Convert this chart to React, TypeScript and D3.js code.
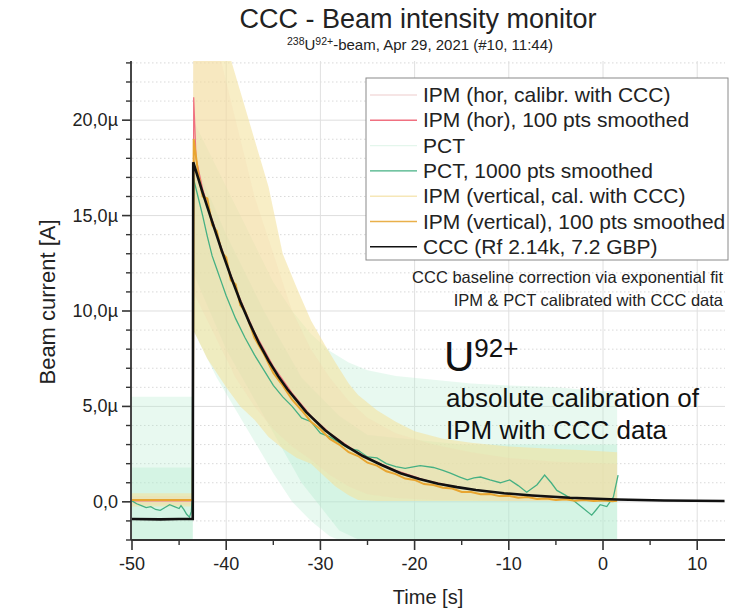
import React from 'react';
import * as d3 from 'd3';

// ---------- data ----------
const X_TICKS = [-50, -40, -30, -20, -10, 0, 10];
const X_MINOR = [-45, -35, -25, -15, -5, 5];
const Y_TICKS = [0, 5, 10, 15, 20];
const Y_TICK_LABELS = ['0,0', '5,0µ', '10,0µ', '15,0µ', '20,0µ'];
const Y_MINOR = [-2, -1, 1, 2, 3, 4, 6, 7, 8, 9, 11, 12, 13, 14, 16, 17, 18, 19, 21, 22, 23];

// CCC signal [t (s), I (µA)]
const CCC: [number, number][] = [
  [-50, -0.9], [-47, -0.92], [-45, -0.9], [-43.55, -0.9], [-43.5, 17.8], [-42.5, 16.2], [-41.5, 14.7],
  [-40.5, 13.2], [-39.5, 11.8], [-38.5, 10.5], [-37.5, 9.35], [-36.5, 8.3], [-35.5, 7.4],
  [-34.5, 6.6], [-33.5, 5.9], [-31.5, 4.7], [-29.5, 3.75], [-27.5, 3.0], [-25.5, 2.4],
  [-23.5, 1.93], [-21.5, 1.5], [-19.5, 1.2], [-17.5, 0.95], [-15.5, 0.77], [-13.5, 0.62],
  [-10.5, 0.45], [-7.5, 0.33], [-3.5, 0.21], [1.5, 0.12], [6.5, 0.07], [12.9, 0.04],
];

// IPM (vertical), 100 pts smoothed
const IPM_V_SMOOTH: [number, number][] = [
  [-50, 0.1], [-43.55, 0.1], [-43.45, 19.0], [-43, 17.3], [-42.5, 16.0], [-42, 15.9], [-41.5, 14.5],
  [-41, 14.2], [-40.5, 13.1], [-40, 12.8], [-39.5, 11.6], [-39, 11.4], [-38.5, 10.3], [-38, 10.0],
  [-37, 8.6], [-36, 7.75], [-35, 6.75], [-34, 6.1], [-33, 5.35], [-32, 4.8], [-31, 4.2], [-30, 3.8],
  [-29, 3.3], [-28, 3.0], [-27, 2.6], [-26, 2.4], [-25, 2.05], [-24, 1.9], [-23, 1.6],
  [-22, 1.45], [-21, 1.22], [-20, 1.15], [-19, 0.93], [-18, 0.88], [-17, 0.74], [-16, 0.7],
  [-15, 0.52], [-14, 0.52], [-13, 0.4], [-12, 0.41], [-11, 0.3], [-10, 0.32], [-9, 0.22],
  [-8, 0.25], [-7, 0.15], [-6, 0.18], [-5, 0.1], [-4, 0.13], [-3, 0.06], [-2, 0.09],
  [-1, 0.04], [0, 0.07], [1, 0.03], [1.5, 0.05],
];

// IPM (hor), 100 pts smoothed
const IPM_H_SMOOTH: [number, number][] = [
  [-50, 0.05], [-43.55, 0.05], [-43.45, 21.2], [-43.2, 18.0], [-42.5, 16.4], [-41.5, 14.8],
  [-40.5, 13.3], [-39.5, 11.9], [-38.5, 10.6], [-37, 8.9], [-35, 7.1], [-33, 5.7], [-31, 4.5],
  [-29, 3.6], [-27, 2.9], [-25, 2.3], [-22, 1.65], [-19, 1.15], [-16, 0.83], [-13, 0.58],
  [-10, 0.42], [-7, 0.3], [-4, 0.2], [-1, 0.15], [1.5, 0.12],
];

// PCT, 1000 pts smoothed
const PCT_SMOOTH: [number, number][] = [
  [-50, 0.05], [-49.5, -0.1], [-49, -0.2], [-48.5, -0.3], [-48, -0.25], [-47.5, -0.4],
  [-47, -0.45], [-46.5, -0.3], [-46, -0.15], [-45.5, -0.25], [-45, -0.35], [-44.8, -0.2],
  [-44.5, -0.4], [-44.2, -0.65], [-43.9, -0.8], [-43.7, -0.5], [-43.6, 0.2], [-43.5, 17.0],
  [-43, 16.0], [-42.5, 15.0], [-42, 13.9], [-41.5, 12.9], [-41, 12.2], [-40.5, 11.5],
  [-40, 10.8], [-39.5, 10.2], [-39, 9.6], [-38, 8.6], [-37, 7.7], [-36, 6.9], [-35, 6.1],
  [-34, 5.5], [-33, 5.0], [-32, 4.4], [-31, 4.2], [-30, 3.6], [-29, 3.4], [-28, 3.1],
  [-27, 2.8], [-26, 2.7], [-25, 2.35], [-24, 2.3], [-23, 2.0], [-22, 1.85], [-21, 1.75],
  [-20, 1.85], [-19.4, 1.9], [-18, 1.8], [-17, 1.65], [-16.2, 1.5], [-15.2, 1.3],
  [-14.4, 1.15], [-13.7, 1.25], [-13, 1.3], [-12, 1.15], [-10.9, 1.0], [-9.9, 1.15],
  [-9, 0.85], [-8.1, 0.5], [-7, 0.9], [-6.2, 1.4], [-5.5, 1.0], [-4.9, 0.6], [-4, 0.35],
  [-3.2, 0.1], [-2.2, -0.3], [-1.2, -0.7], [-0.7, -0.4], [-0.3, -0.15], [0.4, -0.25],
  [1.1, 0.25], [1.6, 1.4],
];

// raw noisy signals, as envelopes [t, low, high]
const IPM_V_RAW: [number, number, number][] = [
  [-50, -0.25, 0.45], [-43.55, -0.25, 0.45], [-43.5, 9, 24], [-42, 7.5, 24], [-40, 6, 24],
  [-38.5, 5, 21.5], [-37, 4.3, 19], [-35.5, 3.4, 16.5], [-34, 2.8, 13], [-32.5, 2.3, 11.2],
  [-31, 2.0, 9.5], [-29.5, 1.3, 8.2], [-28.4, 0.8, 7.3], [-27, 0.35, 6.2], [-26, 0.1, 5.6],
  [-24, 0.05, 4.8], [-22, 0.05, 4.2], [-20, 0.05, 3.7], [-17, 0.05, 3.3], [-14, 0.05, 3.1],
  [-10, 0.05, 2.9], [-6, 0.05, 2.8], [-2, 0.05, 2.7], [1.5, 0.05, 2.6],
];
const IPM_H_RAW: [number, number, number][] = [
  [-50, -0.15, 0.3], [-43.55, -0.15, 0.3], [-43.5, 11, 24], [-41, 8.5, 24], [-39, 6.5, 20],
  [-37, 5, 16], [-35, 3.8, 13], [-33, 2.9, 10], [-31, 2.2, 8], [-29, 1.4, 6.5], [-27, 0.8, 5.3],
  [-25, 0.4, 4.4], [-22, 0.2, 3.6], [-18, 0.1, 3.0], [-14, 0.1, 2.6], [-10, 0.05, 2.3],
  [-5, 0.05, 2.1], [1.5, 0.05, 2.0],
];
const PCT_RAW: [number, number, number][] = [
  [-50, -2.2, 5.5], [-43.55, -2.2, 5.5], [-43.5, 9, 20], [-41, 6.5, 17.5], [-38, 4, 14.5],
  [-35, 1.5, 11.5], [-33, 0, 10], [-31, -1.0, 8.8], [-29, -1.8, 7.9], [-27, -2.2, 7.3],
  [-25, -2.2, 6.9], [-22, -2.2, 6.6], [-18, -2.2, 6.4], [-14, -2.2, 6.2], [-10, -2.2, 6.1],
  [-5, -2.2, 6], [0, -2.2, 5.8], [1.5, -2.2, 5.8],
];
const PCT_CORE: [number, number, number][] = [
  [-50, -2.2, 1.8], [-43.55, -2.2, 1.8], [-43.5, 12, 18], [-40, 8, 14], [-36, 4.5, 10],
  [-32, 1, 6.5], [-28, -1.5, 4.5], [-25, -2.2, 3.5], [-15, -2.2, 3], [1.5, -2.2, 3],
];

const LEGEND_LABELS = [
  'IPM (hor, calibr. with CCC)',
  'IPM (hor), 100 pts smoothed',
  'PCT',
  'PCT, 1000 pts smoothed',
  'IPM (vertical, cal. with CCC)',
  'IPM (vertical), 100 pts smoothed',
  'CCC (Rf 2.14k, 7.2 GBP)',
];
const LEGEND_COLORS = ['#f3dcdc', '#f07080', '#e4f6ec', '#45b083', '#f6e7b8', '#e9b04a', '#111111'];

const FONT = "'Liberation Sans', Arial, sans-serif";

export default function App() {
  const W = 730, H = 615;
  const L = 132, R = 725, T = 61, B = 540;
  const x = d3.scaleLinear().domain([-50, 12.95]).range([L, R]);
  const y = d3.scaleLinear().domain([-2, 23.1]).range([B, T]);

  const line = d3.line<[number, number]>().x(d => x(d[0])).y(d => y(d[1]));
  const area = d3.area<[number, number, number]>().x(d => x(d[0])).y0(d => y(d[1])).y1(d => y(d[2]));

  const legX = 366, legY = 78, legW = 362, legH = 182;
  const legRow = (i: number) => 95 + i * 25.3;

  return (
    <svg width={W} height={H} style={{ position: 'absolute', left: 0, top: 0, background: '#fff' }} fontFamily={FONT}>
      <defs>
        <clipPath id="plotclip">
          <rect x={L} y={T} width={R - L} height={B - T} />
        </clipPath>
      </defs>
      <rect x={0} y={0} width={W} height={H} fill="#fff" />

      {/* grid */}
      {Y_MINOR.map(v => (
        <line key={'ym' + v} x1={L} x2={R} y1={y(v)} y2={y(v)} stroke="#cfcfcf" strokeWidth={0.8} strokeDasharray="1.5,2.5" />
      ))}
      {Y_TICKS.map(v => (
        <line key={'yg' + v} x1={L} x2={R} y1={y(v)} y2={y(v)} stroke="#dedede" strokeWidth={1} />
      ))}
      {X_TICKS.filter(v => v !== -50).map(v => (
        <line key={'xg' + v} x1={x(v)} x2={x(v)} y1={T} y2={B} stroke="#e0e0e0" strokeWidth={1} />
      ))}

      {/* raw bands and smoothed lines */}
      <g clipPath="url(#plotclip)">
        <path d={area(PCT_RAW) || ''} fill="rgb(178,234,205)" fillOpacity={0.3} />
        <path d={area(PCT_CORE) || ''} fill="rgb(178,234,205)" fillOpacity={0.35} />
        <path d={area(IPM_V_RAW) || ''} fill="rgb(243,226,160)" fillOpacity={0.6} />
        <path d={area(IPM_H_RAW) || ''} fill="rgb(245,205,165)" fillOpacity={0.18} />
        <path d={line(IPM_H_SMOOTH) || ''} fill="none" stroke="#f07080" strokeWidth={1.2} />
        <path d={line(PCT_SMOOTH) || ''} fill="none" stroke="#45b083" strokeWidth={1.3} />
        <path d={line(IPM_V_SMOOTH) || ''} fill="none" stroke="#e8a530" strokeWidth={2} />
        <path d={line(CCC) || ''} fill="none" stroke="#111" strokeWidth={2.6} />
      </g>

      {/* axes */}
      <line x1={L - 1} x2={L - 1} y1={T} y2={B} stroke="#333" strokeWidth={1.8} />
      <line x1={L - 1} x2={R} y1={B} y2={B} stroke="#333" strokeWidth={1.8} />
      {Y_TICKS.map((v, i) => (
        <g key={'yt' + v}>
          <line x1={L - 10} x2={L - 1} y1={y(v)} y2={y(v)} stroke="#333" strokeWidth={1.6} />
          <text x={L - 14} y={y(v) + 6} fontSize={18} textAnchor="end" fill="#222">{Y_TICK_LABELS[i]}</text>
        </g>
      ))}
      {Y_MINOR.map(v => (
        <line key={'ymt' + v} x1={L - 6} x2={L - 1} y1={y(v)} y2={y(v)} stroke="#333" strokeWidth={1.4} />
      ))}
      {X_TICKS.map(v => (
        <g key={'xt' + v}>
          <line x1={x(v)} x2={x(v)} y1={B} y2={B + 10} stroke="#333" strokeWidth={1.6} />
          <text x={x(v)} y={B + 30} fontSize={18} textAnchor="middle" fill="#222">{String(v)}</text>
        </g>
      ))}
      {X_MINOR.map(v => (
        <line key={'xmt' + v} x1={x(v)} x2={x(v)} y1={B} y2={B + 5} stroke="#333" strokeWidth={1.4} />
      ))}

      {/* axis titles */}
      <text x={428} y={604} fontSize={20} textAnchor="middle" fill="#222">Time [s]</text>
      <text transform="translate(55,302) rotate(-90)" fontSize={22} textAnchor="middle" fill="#222">Beam current [A]</text>

      {/* title */}
      <text x={418} y={28} fontSize={27} textAnchor="middle" fill="#222">CCC - Beam intensity monitor</text>
      <text x={420} y={50} fontSize={15} textAnchor="middle" fill="#222">
        <tspan fontSize={10.5} dy={-5}>238</tspan>
        <tspan dy={5}>U</tspan>
        <tspan fontSize={10.5} dy={-5}>92+</tspan>
        <tspan dy={5}>-beam, Apr 29, 2021 (#10, 11:44)</tspan>
      </text>

      {/* legend */}
      <rect x={legX} y={legY} width={legW} height={legH} fill="#fff" stroke="#8a8a8a" strokeWidth={1} />
      {LEGEND_LABELS.map((lab, i) => (
        <g key={'lg' + i}>
          <line x1={370} x2={417} y1={legRow(i)} y2={legRow(i)} stroke={LEGEND_COLORS[i]} strokeWidth={1.4} />
          <text x={423} y={legRow(i) + 7} fontSize={21} fill="#222">{lab}</text>
        </g>
      ))}

      {/* annotations */}
      <text x={723} y={283} fontSize={16.5} textAnchor="end" fill="#222">CCC baseline correction via exponential fit</text>
      <text x={723} y={306} fontSize={16.5} textAnchor="end" fill="#222">IPM &amp; PCT calibrated with CCC data</text>
      <text x={444} y={371} fill="#111">
        <tspan fontSize={42}>U</tspan>
        <tspan fontSize={26} dy={-14}>92+</tspan>
      </text>
      <text x={446} y={407} fontSize={26} fill="#111">absolute calibration of</text>
      <text x={446} y={439} fontSize={26} fill="#111">IPM with CCC data</text>
    </svg>
  );
}
